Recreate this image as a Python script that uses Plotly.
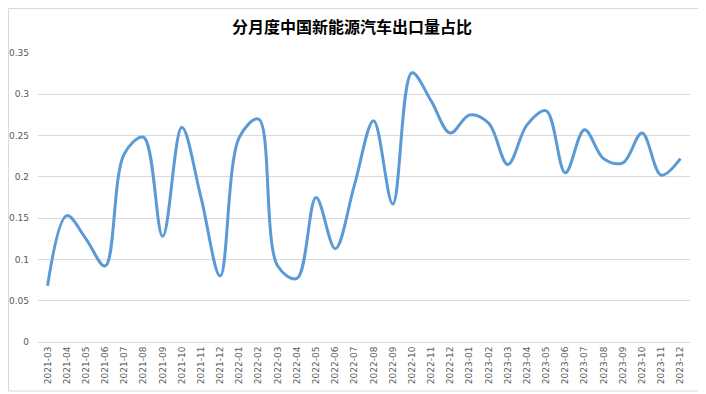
import plotly.graph_objects as go

months = ["2021-03","2021-04","2021-05","2021-06","2021-07","2021-08","2021-09","2021-10","2021-11","2021-12",
          "2022-01","2022-02","2022-03","2022-04","2022-05","2022-06","2022-07","2022-08","2022-09","2022-10",
          "2022-11","2022-12","2023-01","2023-02","2023-03","2023-04","2023-05","2023-06","2023-07","2023-08",
          "2023-09","2023-10","2023-11","2023-12"]
share = [0.068, 0.153, 0.125, 0.092, 0.228, 0.248, 0.128, 0.260, 0.175, 0.080,
         0.248, 0.270, 0.092, 0.077, 0.175, 0.113, 0.190, 0.268, 0.167, 0.326,
         0.292, 0.253, 0.275, 0.265, 0.215, 0.263, 0.280, 0.205, 0.257, 0.222,
         0.217, 0.253, 0.202, 0.222]
ytick_vals = [0, 0.05, 0.1, 0.15, 0.2, 0.25, 0.3, 0.35]
ytick_text = ["0", "0.05", "0.1", "0.15", "0.2", "0.25", "0.3", "0.35"]
title = "分月度中国新能源汽车出口量占比"

fig = go.Figure(go.Scatter(
    x=months, y=share, mode="lines",
    line=dict(color="#5B9BD5", width=3, shape="spline", smoothing=1.0),
    hoverinfo="x+y"))

# page body has an 8px offset; compensate so the plot area lands at the reference pixels
OFF = 8
W, H = 706 - OFF, 394 - OFF
L, R, T, B = 38 - OFF, 16, 53 - OFF, 52
pw, ph = W - L - R, H - T - B

fig.update_layout(
    width=W, height=H,
    margin=dict(l=L, r=R, t=T, b=B, autoexpand=False),
    paper_bgcolor="white", plot_bgcolor="white",
    showlegend=False,
    title=dict(text="<b>" + title + "</b>", x=(352 - OFF) / W, xanchor="center", y=1 - (27 - OFF) / H, yanchor="middle",
               font=dict(family="Noto Sans CJK SC", size=16, color="#000000")),
    font=dict(family="Noto Sans CJK SC", color="#595959"),
    xaxis=dict(type="category", tickangle=-90, tickfont=dict(size=9, color="#595959", family="DejaVu Sans"),
               range=[-0.5, len(months) - 0.5], automargin=False,
               showgrid=False, showline=True, linecolor="#d9d9d9", ticks="", fixedrange=True),
    yaxis=dict(range=[0, 0.35], tickvals=ytick_vals, ticktext=ytick_text, automargin=False,
               tickfont=dict(size=9, color="#595959", family="DejaVu Sans"),
               showgrid=True, gridcolor="#d9d9d9", gridwidth=1, zeroline=False,
               showline=False, ticks="", ticklabelstandoff=8),
    shapes=[dict(type="rect", xref="paper", yref="paper",
                 x0=(0.5 - L) / pw, x1=(703 - OFF - L) / pw,
                 y0=(H - B - (391 - OFF)) / ph, y1=(H - B - 0.5) / ph,
                 line=dict(color="#d9d9d9", width=1), fillcolor="rgba(0,0,0,0)", layer="below")],
)

fig.write_html("out.html")
